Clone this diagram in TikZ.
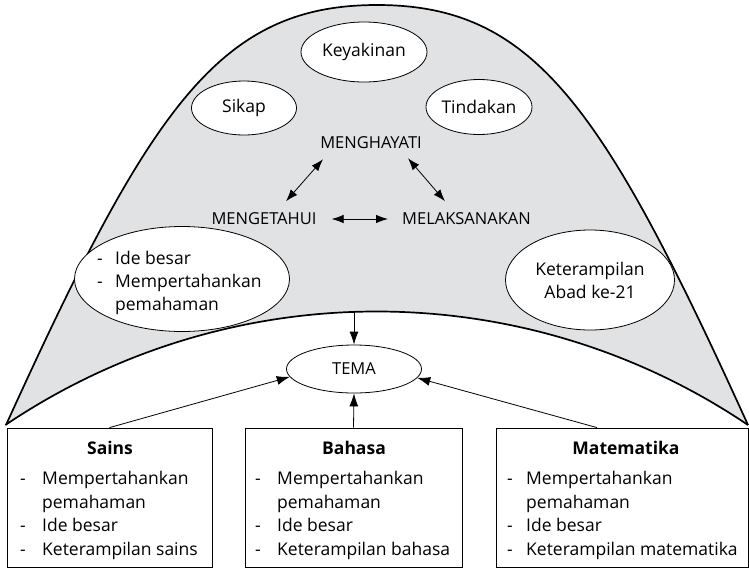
\documentclass[tikz,border=0pt]{standalone}
\usepackage{fontspec}
\setmainfont{Open Sans}
\usetikzlibrary{arrows.meta,shapes.geometric}
\definecolor{archgray}{RGB}{225,226,228}
\newcommand\dashitem[1][18pt]{\makebox[#1][l]{-}}
\newcommand\dashgap[1][18pt]{\hspace*{#1}}
\begin{document}
\begin{tikzpicture}[x=1pt,y=-1pt,
  every node/.style={font=\fontsize{17.5}{23}\selectfont},
  oval/.style={ellipse, draw, fill=white, line width=0.8pt, inner sep=0pt},
  caps/.style={inner sep=0pt, font=\fontsize{16.5}{20}\selectfont},
  panel/.style={draw, line width=0.8pt, inner sep=0pt},
  heading/.style={inner sep=0pt, font=\fontsize{17.5}{22}\selectfont\bfseries},
  items/.style={inner sep=0pt, align=left, anchor=north west},
  boxitems/.style={items, font=\fontsize{17.5}{23.5}\selectfont},
  arr/.style={-{Latex[length=13pt,width=9pt]}, line width=0.8pt},
  biarr/.style={{Latex[length=12pt,width=8.5pt]}-{Latex[length=12pt,width=8.5pt]}, line width=0.8pt},
  rim/.style={line width=1.7pt},
]
\useasboundingbox (0,0) rectangle (749,568);

% grey arch between the outer dome and the inner arc
\fill[archgray] (6,425) .. controls (151,106) and (220,5) .. (377,5)
  .. controls (534,5) and (603,106) .. (748,425)
  arc[start angle=56, end angle=124, radius=664pt] -- cycle;
\draw[rim] (6,425) .. controls (151,106) and (220,5) .. (377,5)
  .. controls (534,5) and (603,106) .. (748,425);
\draw[rim] (748,425) arc[start angle=56, end angle=124, radius=664pt];
\coordinate (crest) at (354,311.5);

% ovals inside the arch
\node[oval, minimum width=126pt, minimum height=60pt] (kyk) at (364,52) {Keyakinan};
\node[oval, minimum width=105pt, minimum height=54pt] (skp) at (244,108) {Sikap};
\node[oval, minimum width=105pt, minimum height=55pt] (tdk) at (479,107) {Tindakan};
\node[oval, minimum width=215pt, minimum height=105pt] (ide) at (182,279) {};
\node[items] (ideL) at (97,251) {\dashitem Ide besar\\\dashitem Mempertahankan\\\dashgap pemahaman};
\node[oval, minimum width=169pt, minimum height=100pt, align=center] (abad) at (590,280) {Keterampilan\\Abad ke-21};

% the three stages
\node[caps] (mhy) at (371,143) {MENGHAYATI};
\node[caps] (mgt) at (264,219) {MENGETAHUI};
\node[caps] (mel) at (466.5,219) {MELAKSANAKAN};
\draw[biarr] ([shift={(-48,10)}]mhy.south) -- ([shift={(22,-11.5)}]mgt.north);
\draw[biarr] ([shift={(37,9)}]mhy.south) -- ([shift={(-21.5,-11.5)}]mel.north);
\draw[biarr, shorten <=15pt, shorten >=14pt] (mgt.east) -- (mel.west);

% theme
\node[oval, minimum width=135pt, minimum height=48pt, font=\fontsize{16.5}{20}\selectfont] (tema) at (354,369) {TEMA};
\draw[arr] (crest) -- (tema.north);

% subject panels
\node[panel, minimum width=205pt, minimum height=139pt] (sains) at (109.5,497.5) {};
\node[heading] (sainsT) at (110,448) {Sains};
\node[boxitems] (sainsL) at (20,471) {\dashitem[22pt]Mempertahankan\\\dashgap[22pt]pemahaman\\\dashitem[22pt]Ide besar\\\dashitem[22pt]Keterampilan sains};

\node[panel, minimum width=217pt, minimum height=139pt] (bah) at (353.5,497.5) {};
\node[heading] (bahT) at (354,448) {Bahasa};
\node[boxitems] (bahL) at (255,471) {\dashitem[22pt]Mempertahankan\\\dashgap[22pt]pemahaman\\\dashitem[22pt]Ide besar\\\dashitem[22pt]Keterampilan bahasa};

\node[panel, minimum width=252pt, minimum height=139pt] (mat) at (622,497.5) {};
\node[heading] (matT) at (626,448) {Matematika};
\node[boxitems] (matL) at (507,471) {\dashitem[19pt]Mempertahankan\\\dashgap[19pt]pemahaman\\\dashitem[19pt]Ide besar\\\dashitem[19pt]Keterampilan matematika};

\draw[arr] (sains.north) -- (tema.187);
\draw[arr] (bah.north) -- (tema.south);
\draw[arr] ([xshift=-25pt]mat.north) -- (tema.352);
\end{tikzpicture}
\end{document}
